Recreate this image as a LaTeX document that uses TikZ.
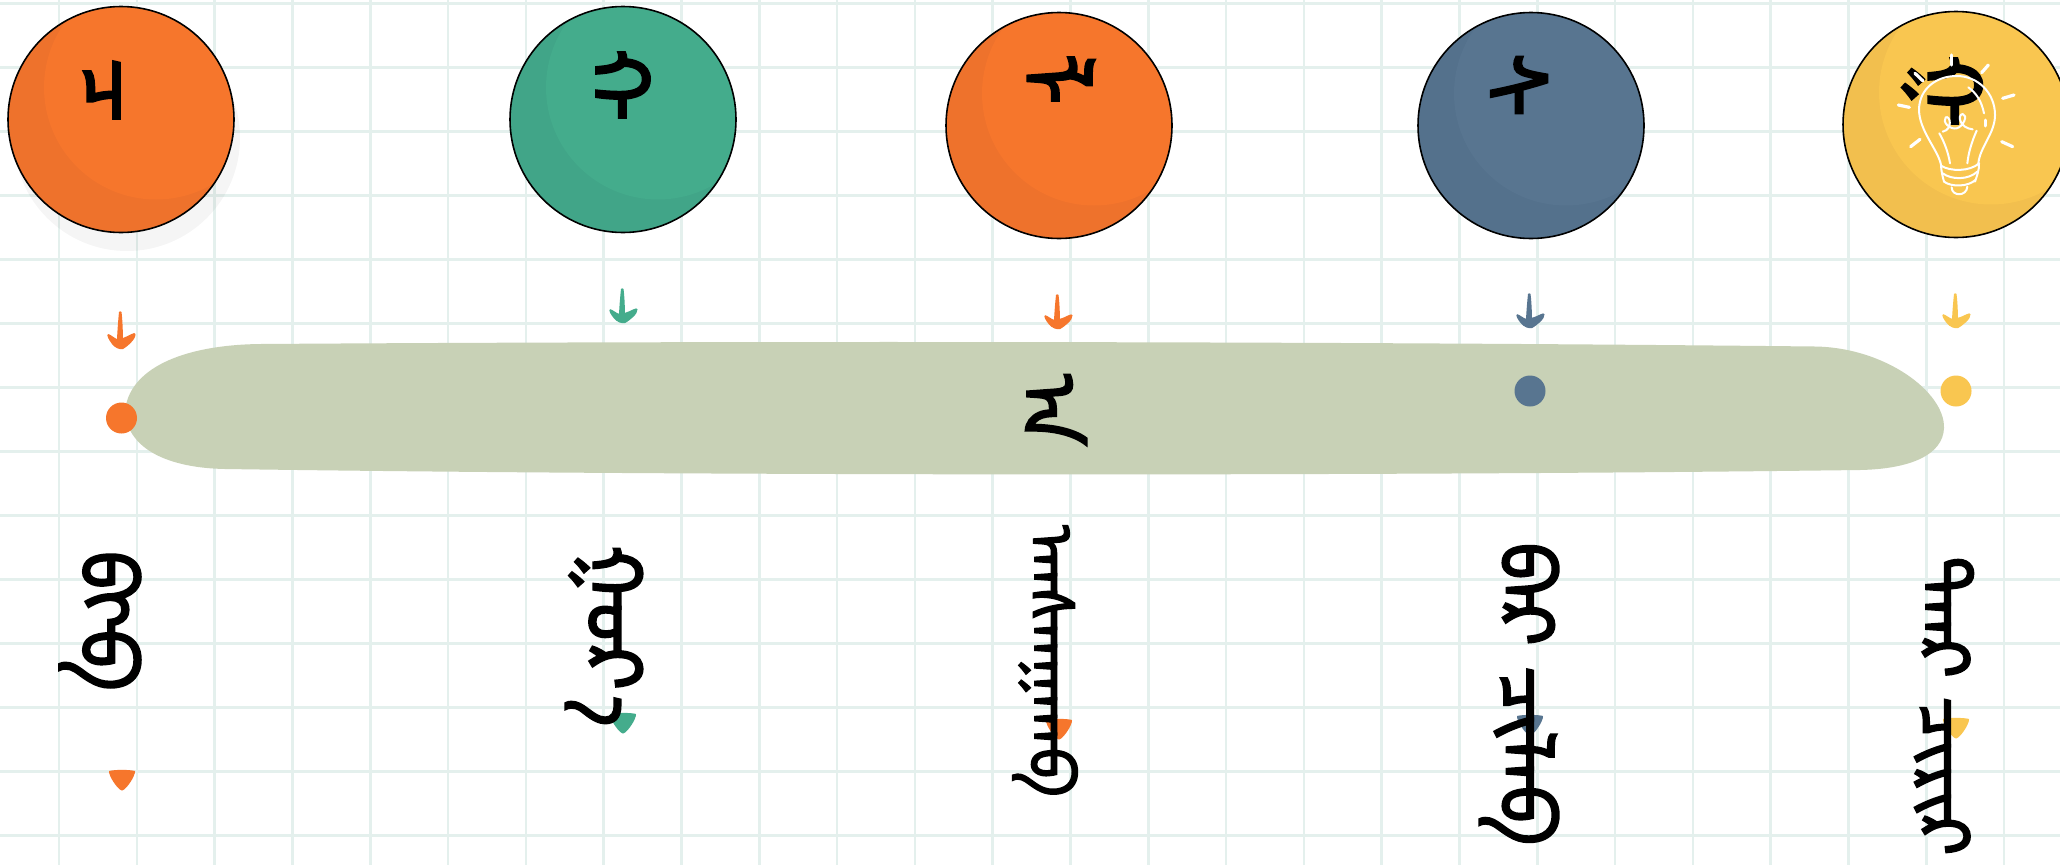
\documentclass[tikz,border=0pt]{standalone}
\usepackage{fontspec}
\newfontfamily\mong[Script=Mongolian,FakeBold=2.5]{Noto Sans Mongolian}
\definecolor{gridc}{HTML}{E4F0ED}
\definecolor{orA}{HTML}{F6762C}\definecolor{orB}{HTML}{EE722C}
\definecolor{grA}{HTML}{44AC8C}\definecolor{grB}{HTML}{41A588}
\definecolor{blA}{HTML}{587590}\definecolor{blB}{HTML}{54718C}
\definecolor{yeA}{HTML}{F9C650}\definecolor{yeB}{HTML}{F2BF4E}
\definecolor{barc}{HTML}{C8D1B6}
\tikzset{
 stepcircle/.style n args={2}{circle,minimum size=226pt,inner sep=0,draw=black,line width=1.6pt,fill=#2,
   path picture={\fill[#1] ([shift={(35,-32)}]path picture bounding box.center) circle (112);}},
 dotnode/.style={circle,minimum size=31pt,inner sep=0,fill=#1},
 mword/.style={rotate=-90,inner sep=0,font=\mong\fontsize{#1}{#1}\selectfont,text=black},
 mcirc/.style={rotate=-90,inner sep=0,font=\mong\fontsize{85}{85}\selectfont,text=black},
 mbar/.style={rotate=-90,inner sep=0,font=\mong\fontsize{78}{78}\selectfont,text=black},
 handarrow/.pic={\fill[pic actions] (-1,0) .. controls (-2,10) and (-2.5,18) .. (-3,27) .. controls (-6,26) and (-10,22) .. (-12,22) .. controls (-14,23) and (-11,28) .. (-8,32) .. controls (-5,36) and (0,38) .. (3,37) .. controls (8,34) and (16,27) .. (15.5,22) .. controls (15,19) and (9,24) .. (3,26) .. controls (2.8,18) and (2.5,8) .. (1.5,0) .. controls (1,-1) and (-0.5,-1) .. (-1,0) -- cycle;},
 handtip/.pic={\fill[pic actions] (-13,1) .. controls (-8,-0.5) and (8,-0.5) .. (13,1) .. controls (13.5,6) and (4,20) .. (0,20.5) .. controls (-4,20) and (-13.5,6) .. (-13,1) -- cycle;},
 bulbline/.style={draw=white,line width=2pt,line cap=round,line join=round},
 bulbray/.style={draw=white,line width=3.2pt,line cap=round}
}
\begin{document}
\begin{tikzpicture}[x=1pt,y=-1pt]
\useasboundingbox[fill=white] (0,0) rectangle (2060,865);
\begin{scope}
\clip (0,0) rectangle (2060,865);
% grid
\foreach \k in {0,...,25}{\draw[gridc,line width=2.6pt] ({59+77.8*\k},0) -- ({59+77.8*\k},865);}
\foreach \k in {0,...,13}{\draw[gridc,line width=2.6pt] (0,{3.7+64*\k}) -- (2060,{3.7+64*\k});}
% shadow of the first circle
\fill[black,opacity=.04] (127,138) circle (113);
% circles
\node[stepcircle={orA}{orB}] (c1) at (121,119.5) {};
\node[stepcircle={grA}{grB}] (c2) at (623,119.5) {};
\node[stepcircle={orA}{orB}] (c3) at (1059,125.5) {};
\node[stepcircle={blA}{blB}] (c4) at (1531,125.5) {};
\node[stepcircle={yeA}{yeB}] (c5) at (1956,124.5) {};
% arrows
\pic[fill=orA] at (120,312) {handarrow};
\pic[fill=grA,yscale=.92] at (622,289) {handarrow};
\pic[fill=orA,yscale=.92] at (1057,295) {handarrow};
\pic[fill=blA,yscale=.92] at (1529,294) {handarrow};
\pic[fill=yeA,yscale=.92] at (1955,294) {handarrow};
% bar
\path[fill=barc] (125,412) .. controls (128,370) and (180,345) .. (260,344) .. controls (700,341) and (1300,341) .. (1815,346.5) .. controls (1885,347.5) and (1945,392) .. (1944,428) .. controls (1943,455) and (1910,469) .. (1860,470) .. controls (1400,476) and (700,476) .. (225,469) .. controls (170,468) and (128,450) .. (125,412) -- cycle;
% dots
\node[dotnode=orA] (d1) at (121.5,418) {};
\node[dotnode=blA] (d4) at (1530,391) {};
\node[dotnode=yeA] (d5) at (1956,391) {};
% tips
\pic[fill=orA] at (122,770) {handtip};
\pic[fill=grA] at (623,713) {handtip};
\pic[fill=orA] at (1059,719) {handtip};
\pic[fill=blA] at (1530,715) {handtip};
\pic[fill=yeA] at (1956,718) {handtip};
% texts in the circles
\node[mcirc] (c1t) at (101,90) {ᠴ};
\node[mcirc] (c2t) at (619,85) {ᠬ};
\node[mcirc] (c3t) at (1058,79) {ᠯ};
\node[mcirc] (c4t) at (1516,85) {ᠰ};
\node[mcirc] (c5t) at (1942,91) {ᠭ};
% text in the bar
\node[mbar] (bart) at (1054,410) {ᠠ};
% lower texts
\node[mword=78] (w1) at (100,621) {ᠪᠭᠪ};
\node[mword=78] (w2) at (604,636) {ᠭᠣᠷ^^^^180eᠠ};
\node[mword=62] (w3) at (1045,661) {ᠠᠠᠰᠠᠠᠭᠠᠠᠠᠪ};
\node[mword=76] (w4) at (1519,694) {ᠪᠠᠷ ᠴᠢᠯᠠᠪ};
\node[mword=70] (w5) at (1944,706) {ᠲᠠᠠᠷ ᠴᠢᠷᠢᠷ};
% light bulb
\begin{scope}[shift={(1780,0)},scale=1/3]
\draw[bulbline] (483,495) .. controls (475,450) and (415,390) .. (417,325) .. controls (420,265) and (470,228) .. (530,228) .. controls (595,228) and (645,280) .. (645,345) .. controls (645,400) and (600,440) .. (595,490);
\draw[bulbline] (483,497) .. controls (510,515) and (570,515) .. (597,490) .. controls (598,510) and (590,530) .. (585,545);
\draw[bulbline] (483,497) .. controls (484,515) and (488,530) .. (492,545);
\draw[bulbline] (488,520) .. controls (515,540) and (565,540) .. (592,515);
\draw[bulbline] (492,545) .. controls (515,562) and (565,560) .. (586,540);
\draw[bulbline] (515,562) .. controls (515,590) and (560,590) .. (562,560);
\draw[bulbline] (488,395) .. controls (520,388) and (510,345) .. (497,352) .. controls (485,365) and (510,390) .. (530,385) .. controls (550,380) and (565,345) .. (548,342) .. controls (530,345) and (540,385) .. (578,388);
\draw[bulbline] (478,400) .. controls (495,430) and (505,460) .. (510,490);
\draw[bulbline] (590,392) .. controls (575,425) and (565,460) .. (562,490);
\draw[bulbline] (565,262) .. controls (590,280) and (605,305) .. (612,340);
\draw[bulbline,line width=3pt] (616,360) -- (616,378);
\draw[bulbray] (515,165) -- (515,195);
\draw[bulbray] (605,218) -- (625,195);
\draw[bulbray] (668,295) -- (702,285);
\draw[bulbray] (665,425) -- (698,440);
\draw[bulbray] (355,315) -- (388,322);
\draw[bulbray] (392,440) -- (420,418);
\draw[bulbray] (405,220) -- (428,242);
\end{scope}
\end{scope}
\end{tikzpicture}
\end{document}
